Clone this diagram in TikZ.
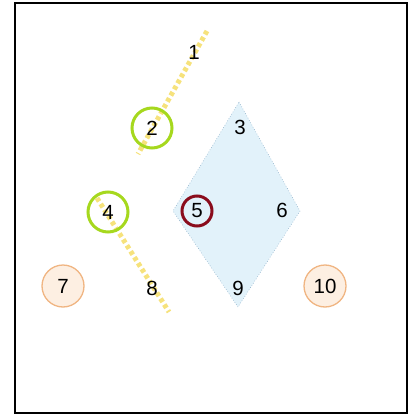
\documentclass[tikz,border=0pt]{standalone}
\usepackage{fontspec}
\setmainfont{Liberation Sans}
\definecolor{dotyellow}{HTML}{F6E27C}
\definecolor{limegreen}{HTML}{A6D81E}
\definecolor{darkred}{HTML}{8A0C1C}
\definecolor{peachfill}{HTML}{FDEFE2}
\definecolor{peachdraw}{HTML}{F0B582}
\definecolor{skyfill}{HTML}{E2F2FA}
\definecolor{skydraw}{HTML}{8FB0C8}
\begin{document}
\begin{tikzpicture}[x=1pt,y=-1pt,
  lbl/.style={font=\fontsize{20.5}{20.5}\selectfont, text=black, inner sep=0pt},
  greenring/.style={circle, draw=limegreen, line width=3pt, minimum size=40pt, inner sep=0pt},
  redring/.style={circle, draw=darkred, line width=3pt, minimum size=30pt, inner sep=0pt},
  peach/.style={circle, draw=peachdraw, fill=peachfill, line width=1.3pt, minimum size=42pt, inner sep=0pt},
  yline/.style={draw=dotyellow, line width=5pt, dash pattern=on 4pt off 3pt},
  diamondfill/.style={fill=skyfill, draw=skydraw, line width=0.6pt, dotted}]
\useasboundingbox (0,0) rectangle (410,414);
\draw[line width=2pt] (15,3) rectangle (407,413);
% diamond
\coordinate (dt) at (239,102);
\coordinate (dl) at (173,211);
\coordinate (dr) at (300,211);
\coordinate (db) at (238,307);
\path[diamondfill] (dt) -- (dr) -- (db) -- (dl) -- cycle;
% yellow dotted lines
\coordinate (y1a) at (207,31);
\coordinate (y1b) at (138,154);
\coordinate (y2a) at (97,198);
\coordinate (y2b) at (169,312);
\draw[yline] (y1a) -- (y1b);
\draw[yline] (y2a) -- (y2b);
% nodes
\node[lbl] (n1) at (194,52) {1};
\node[greenring] (c2) at (152,128) {};
\node[lbl] (n2) at (152,128) {2};
\node[lbl] (n3) at (240,127) {3};
\node[greenring] (c4) at (108,212) {};
\node[lbl] (n4) at (108,212) {4};
\node[redring] (c5) at (197,211) {};
\node[lbl] (n5) at (197,211) {5};
\node[lbl] (n6) at (282,210) {6};
\node[peach] (c7) at (63,286) {};
\node[lbl] (n7) at (63,286) {7};
\node[lbl] (n8) at (152,288) {8};
\node[lbl] (n9) at (238,288) {9};
\node[peach] (c10) at (325,286) {};
\node[lbl] (n10) at (325,286) {10};
\end{tikzpicture}
\end{document}
